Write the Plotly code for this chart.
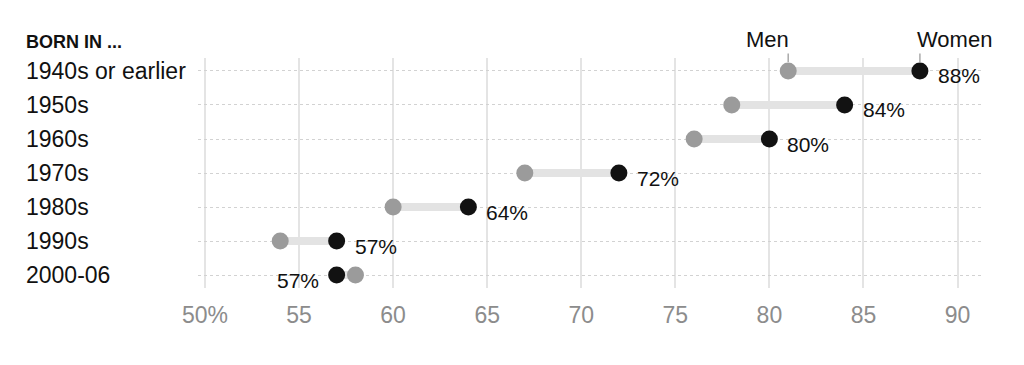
import plotly.graph_objects as go

categories = ["1940s or earlier", "1950s", "1960s", "1970s", "1980s", "1990s", "2000-06"]
men = [81, 78, 76, 67, 60, 54, 58]
women = [88, 84, 80, 72, 64, 57, 57]
tick_vals = [50, 55, 60, 65, 70, 75, 80, 85, 90]
tick_text = ["50%", "55", "60", "65", "70", "75", "80", "85", "90"]

FONT = "Liberation Sans"
MEN_C = "#9b9b9b"
WOMEN_C = "#121212"

fig = go.Figure()
ys = list(range(len(categories)))

for i in ys:
    fig.add_trace(go.Scatter(x=[men[i], women[i]], y=[i, i], mode="lines",
                             line=dict(color="#e3e3e3", width=8), hoverinfo="skip",
                             showlegend=False))

fig.add_trace(go.Scatter(x=men, y=ys, mode="markers", name="Men",
                         marker=dict(color=MEN_C, size=17), showlegend=False, cliponaxis=False))
fig.add_trace(go.Scatter(x=women, y=ys, mode="markers", name="Women",
                         marker=dict(color=WOMEN_C, size=17), showlegend=False, cliponaxis=False))

LX = -0.222
ann = []
for i, c in enumerate(categories):
    ann.append(dict(x=LX, xref="paper", y=i, yref="y", text=c, showarrow=False,
                    xanchor="left", yanchor="middle", font=dict(family=FONT, size=23, color="#111")))
    right = women[i] >= men[i]
    ann.append(dict(x=women[i], y=i, xref="x", yref="y", text=f"{women[i]}%", showarrow=False,
                    xanchor="left" if right else "right", yanchor="middle",
                    xshift=16 if right else -16, yshift=-5,
                    font=dict(family=FONT, size=21, color="#111")))

ann.append(dict(x=LX, xref="paper", y=1.07, yref="paper", text="<b>BORN IN ...</b>",
                showarrow=False, xanchor="left", yanchor="middle",
                font=dict(family=FONT, size=18, color="#111")))
for val, txt, anchor, xs in [(men[0], "Men", "right", 3), (women[0], "Women", "left", -5)]:
    ann.append(dict(x=val, y=0, xref="x", yref="y", text="", showarrow=True,
                    arrowhead=0, arrowwidth=1.5, arrowcolor="#aaaaaa", ax=0, ay=-19,
                    standoff=9))
    ann.append(dict(x=val, y=0, xref="x", yref="y", text=txt, showarrow=False,
                    xanchor=anchor, yanchor="middle", xshift=xs, yshift=31,
                    font=dict(family=FONT, size=22, color="#111")))

fig.update_layout(
    width=1016, height=357,
    margin=dict(l=190, r=42, t=50, b=77),
    paper_bgcolor="white", plot_bgcolor="white",
    annotations=ann,
    xaxis=dict(range=[49.63, 91.3], tickvals=tick_vals, ticktext=tick_text,
               showgrid=True, gridcolor="#e4e4e4", gridwidth=1.5, zeroline=False,
               showline=False, ticks="", ticklabelstandoff=11,
               tickfont=dict(family=FONT, size=23, color="#8c8c8c")),
    yaxis=dict(range=[6.382, -0.382], tickvals=ys, showticklabels=False,
               showgrid=True, gridcolor="#d2d2d2", gridwidth=1, griddash="dot",
               zeroline=False, showline=False),
)

fig.write_html("out.html")
